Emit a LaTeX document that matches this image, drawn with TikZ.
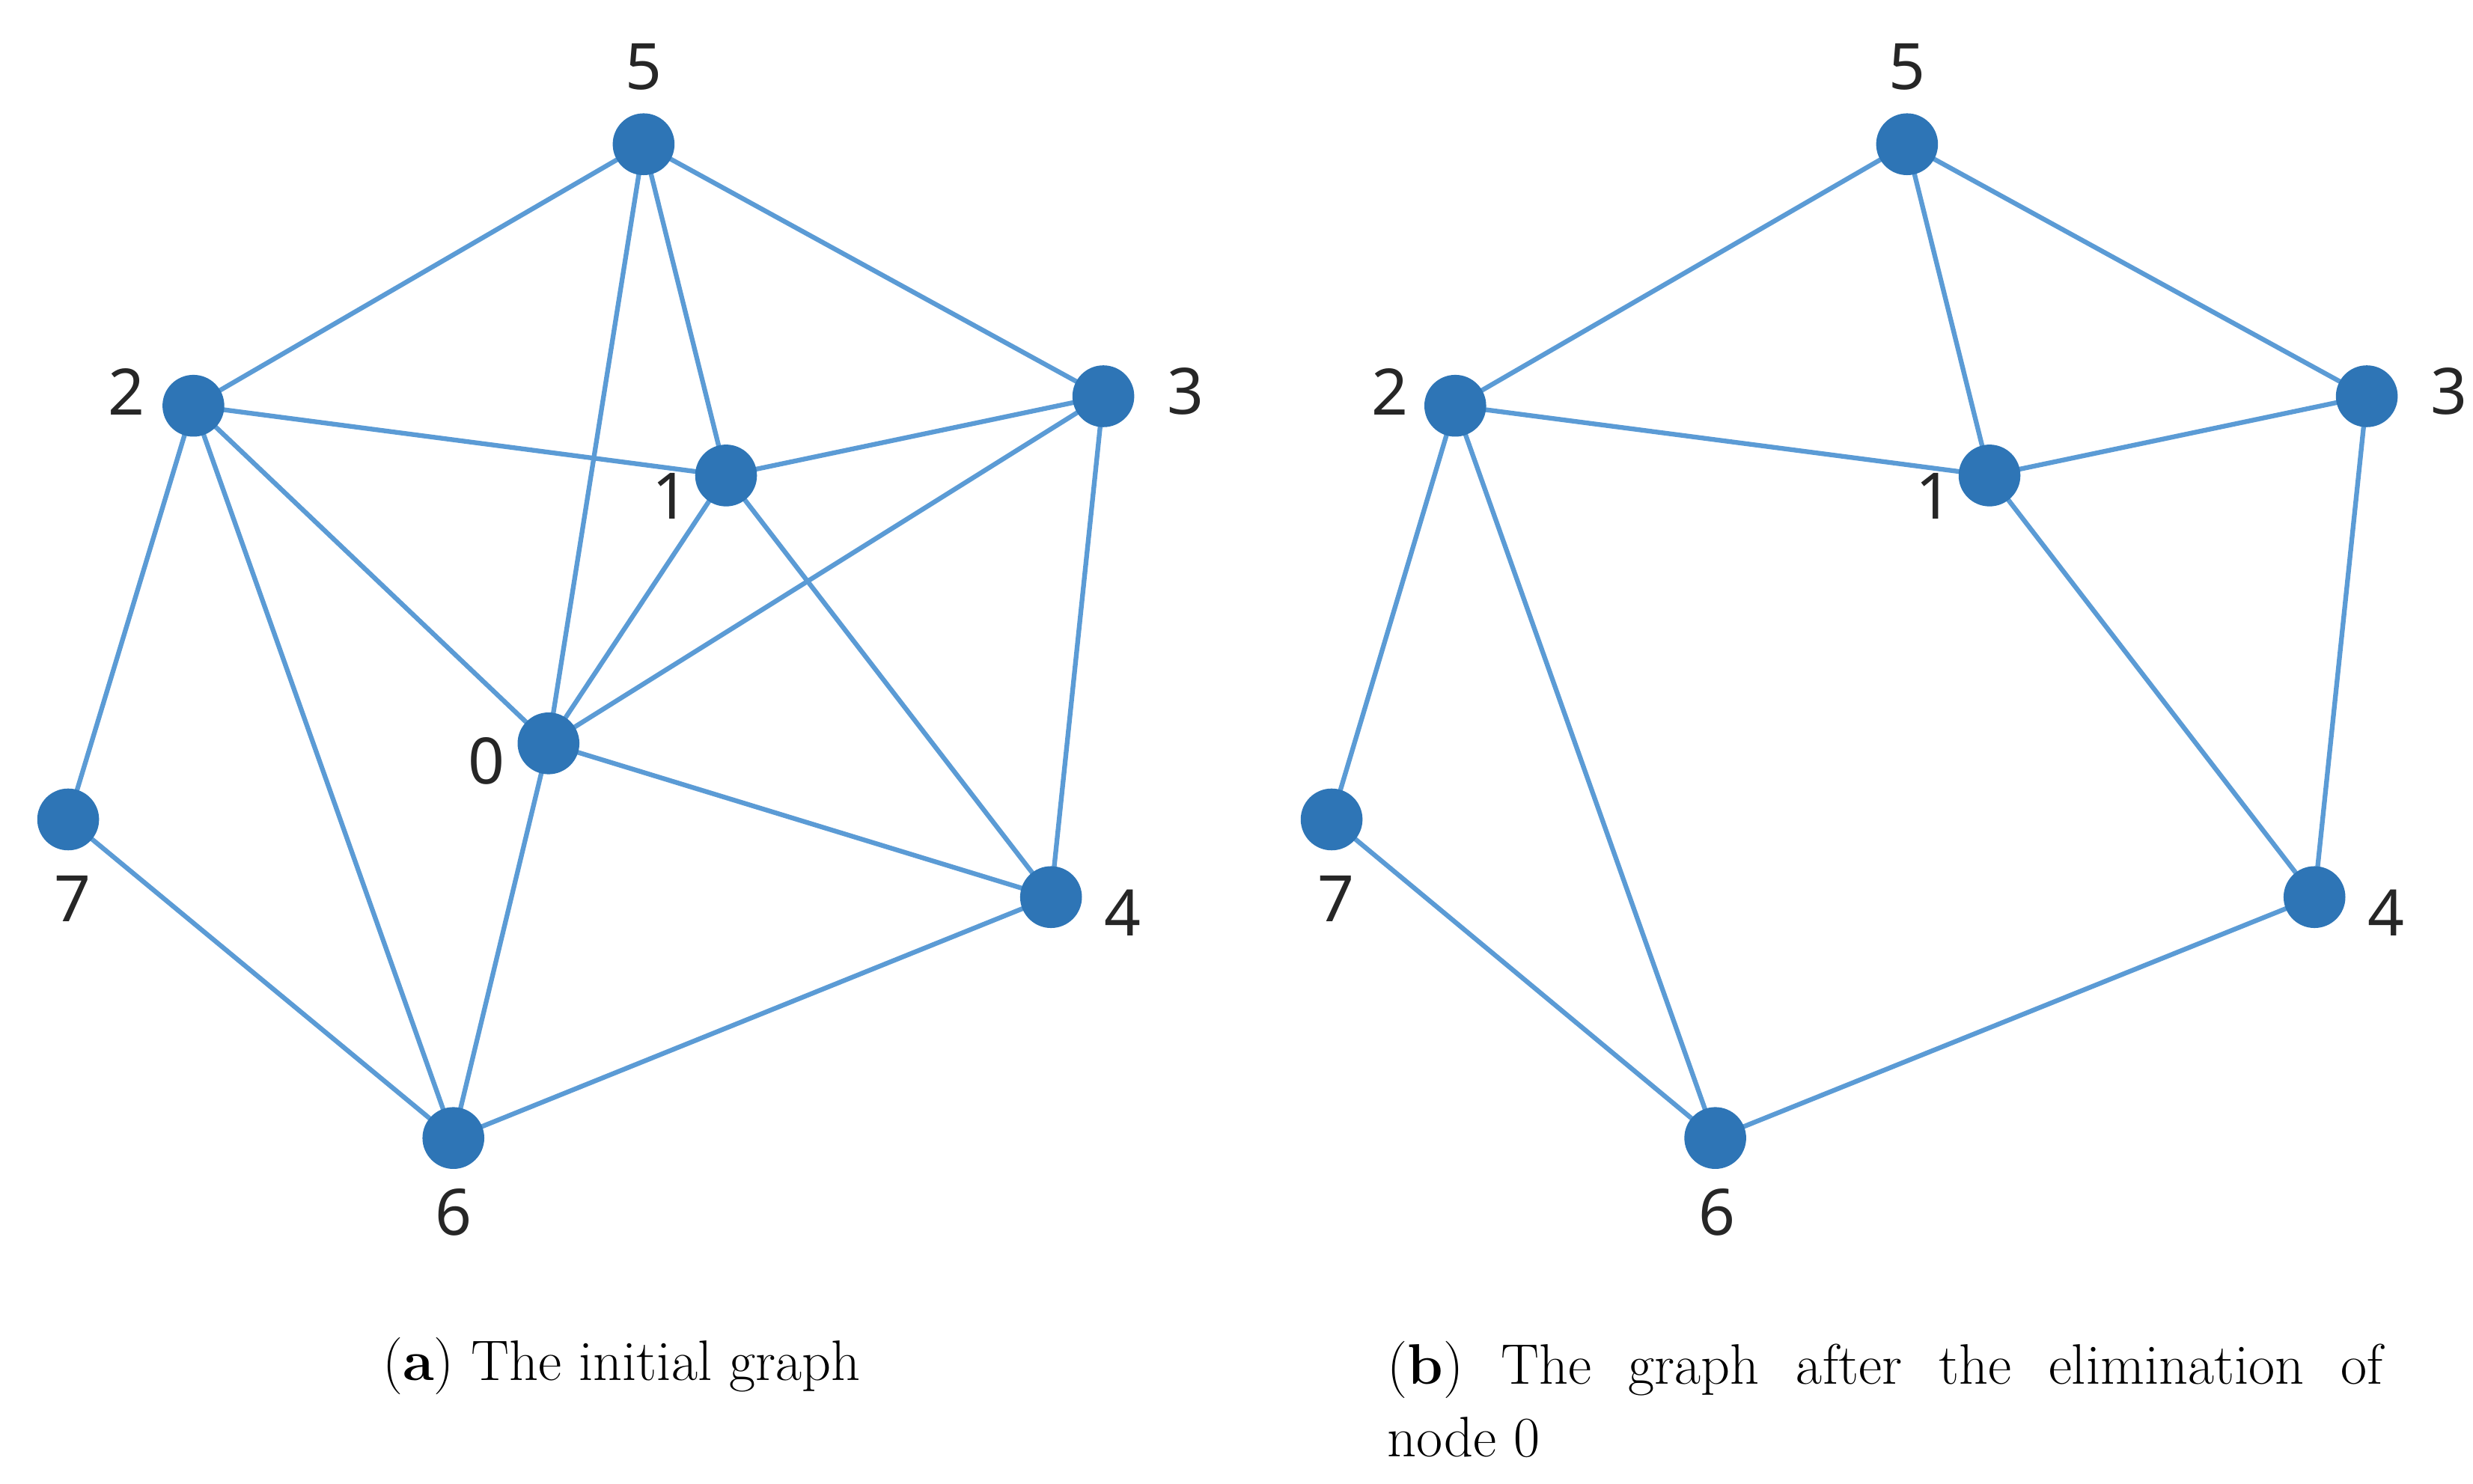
\documentclass[tikz,border=0pt]{standalone}
\usepackage{fontspec}
\newfontfamily\lab{Noto Sans}
\begin{document}
\begin{tikzpicture}[x=0.02cm,y=-0.02cm]
\definecolor{nd}{HTML}{2E75B6}
\definecolor{ed}{HTML}{5B9BD5}
\tikzset{vx/.style={circle,fill=nd,minimum size=0.78cm,inner sep=0pt},
 ln/.style={draw=ed,line width=1.7pt},
 lb/.style={font=\lab\fontsize{23}{23}\selectfont,text=black!85},
 captext/.style={font=\fontsize{20.5}{24}\selectfont,anchor=west}}
\useasboundingbox (0,0) rectangle (1560,936);
% graph a
\foreach \n/\x/\y in {5/406/91,2/122/256,3/696/250,1/458/300,0/346/469,7/43/517,4/663/566,6/286/718}
  \coordinate (a\n) at (\x,\y);
\foreach \u/\v in {5/2,5/0,5/1,5/3,2/1,2/0,2/6,2/7,1/3,1/0,1/4,3/0,3/4,0/4,0/6,7/6,6/4}
  \draw[ln] (a\u) -- (a\v);
\foreach \n in {0,...,7} \node[vx] (na\n) at (a\n) {};
% graph b
\foreach \n/\x/\y in {5/1203/91,2/918/256,3/1493/250,1/1255/300,7/840/517,4/1460/566,6/1082/718}
  \coordinate (b\n) at (\x,\y);
\foreach \u/\v in {5/2,5/1,5/3,2/1,2/6,2/7,1/3,1/4,3/4,7/6,6/4}
  \draw[ln] (b\u) -- (b\v);
\foreach \n in {1,...,7} \node[vx] (nb\n) at (b\n) {};
% labels
\foreach \p/\dx in {a/0,b/797}{
 \node[lb] (l5\p) at (406+\dx,42) {5};
 \node[lb] (l2\p) at (80+\dx,247) {2};
 \node[lb] (l3\p) at (748+\dx,247) {3};
 \node[lb] (l1\p) at (423+\dx,313) {1};
 \node[lb] (l7\p) at (46+\dx,567) {7};
 \node[lb] (l4\p) at (708+\dx,576) {4};
 \node[lb] (l6\p) at (286+\dx,765) {6};
}
\node[lb] (l0a) at (307,480) {0};
% captions
\node[captext,anchor=center] (capa) at (392,862) {(\textbf{a}) The initial graph};
\node[captext,align=left,anchor=north west,inner sep=0pt] (capb) at (875,846)
 {\makebox[12.56cm][s]{(\textbf{b}) The graph after the elimination of}\\[2pt] node 0};
\end{tikzpicture}
\end{document}
